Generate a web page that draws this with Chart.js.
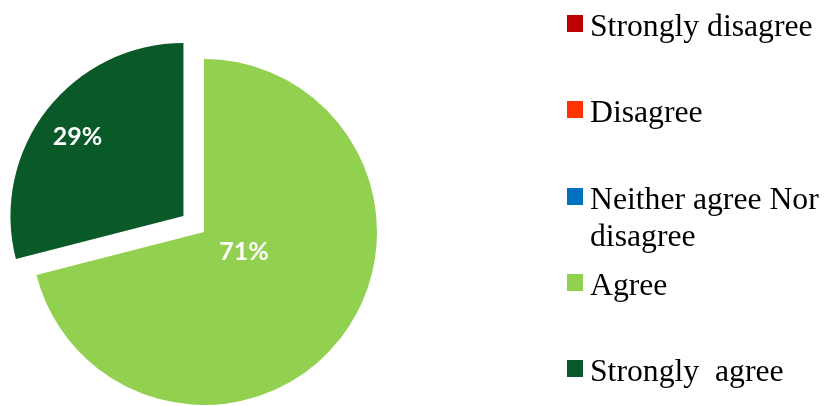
<!DOCTYPE html>
<html>
<head>
<meta charset="utf-8">
<script src="https://cdn.jsdelivr.net/npm/chart.js@4/dist/chart.umd.min.js"></script>
<style>
  html, body { margin: 0; padding: 0; background: #fff; }
  #wrap { position: relative; width: 827px; height: 406px; overflow: hidden; }
  #pie { position: absolute; left: 0; top: 0; }
  #legend { position: absolute; left: 567px; top: 0; width: 260px; height: 406px; }
  .item {
    position: absolute; left: 0; width: 260px;
    font-family: "Liberation Serif", "Times New Roman", serif;
    font-size: 31.7px; line-height: 37px; color: #000;
  }
  .item .box { position: absolute; left: 0; top: 8px; width: 16px; height: 17px; }
  .item .txt { display: block; margin-left: 23px; width: 237px; white-space: pre-wrap; }
</style>
</head>
<body>
<div id="wrap">
  <canvas id="pie" width="827" height="406"></canvas>
  <div id="legend"></div>
</div>
<script>
// ── Data ─────────────────────────────────────────────────────
const labels     = ["Strongly disagree", "Disagree", "Neither agree Nor disagree", "Agree", "Strongly  agree"];
const values     = [0, 0, 0, 71, 29];
const colors     = ["#C00000", "#FF3300", "#0070C0", "#92D050", "#095A28"];
const explode    = [0, 0, 0, 0, 26];           // px pulled out of the pie
const labelPos   = [0, 0, 0, 0.258, 0.764];    // fraction of radius for the % labels
const labelTurn  = [0, 0, 0, -0.195, -0.02];   // small angle nudge (rad) for best fit

// ── Exploded slice: shift arc centre along its mid angle ────
const explodeSlices = {
  id: "explodeSlices",
  afterDatasetUpdate(chart, args) {
    args.meta.data.forEach((arc, i) => {
      const e = explode[i];
      if (!e) return;
      const mid = (arc.startAngle + arc.endAngle) / 2;
      arc.x += Math.cos(mid) * e;
      arc.y += Math.sin(mid) * e;
    });
  }
};

// ── Percent labels on slices ─────────────────────────────────
const pctLabels = {
  id: "pctLabels",
  afterDatasetsDraw(chart) {
    const ctx = chart.ctx;
    const meta = chart.getDatasetMeta(0);
    ctx.save();
    ctx.fillStyle = "#fff";
    ctx.font = "bold 25px Lato, 'Open Sans', sans-serif";
    ctx.textAlign = "center";
    ctx.textBaseline = "middle";
    meta.data.forEach((arc, i) => {
      if (!values[i]) return;
      const mid = (arc.startAngle + arc.endAngle) / 2 + labelTurn[i];
      const r = arc.outerRadius * labelPos[i];
      ctx.fillText(values[i] + "%", arc.x + Math.cos(mid) * r, arc.y + Math.sin(mid) * r);
    });
    ctx.restore();
  }
};

new Chart(document.getElementById("pie"), {
  type: "pie",
  data: {
    labels,
    datasets: [{
      data: values,
      backgroundColor: colors,
      borderWidth: 0,
      radius: 173,
    }],
  },
  options: {
    responsive: false,
    animation: false,
    layout: { padding: { left: 0, right: 419, top: 58, bottom: 0 } },
    plugins: {
      legend: { display: false },
      tooltip: { enabled: false },
    },
  },
  plugins: [explodeSlices, pctLabels],
});

// ── Legend ───────────────────────────────────────────────────
const legend = document.getElementById("legend");
labels.forEach((lab, i) => {
  const item = document.createElement("div");
  item.className = "item";
  item.style.top = (7 + i * 86.3) + "px";
  item.innerHTML = `<span class="box" style="background:${colors[i]}"></span><span class="txt"></span>`;
  item.querySelector(".txt").textContent = lab;
  legend.appendChild(item);
});
</script>
</body>
</html>
